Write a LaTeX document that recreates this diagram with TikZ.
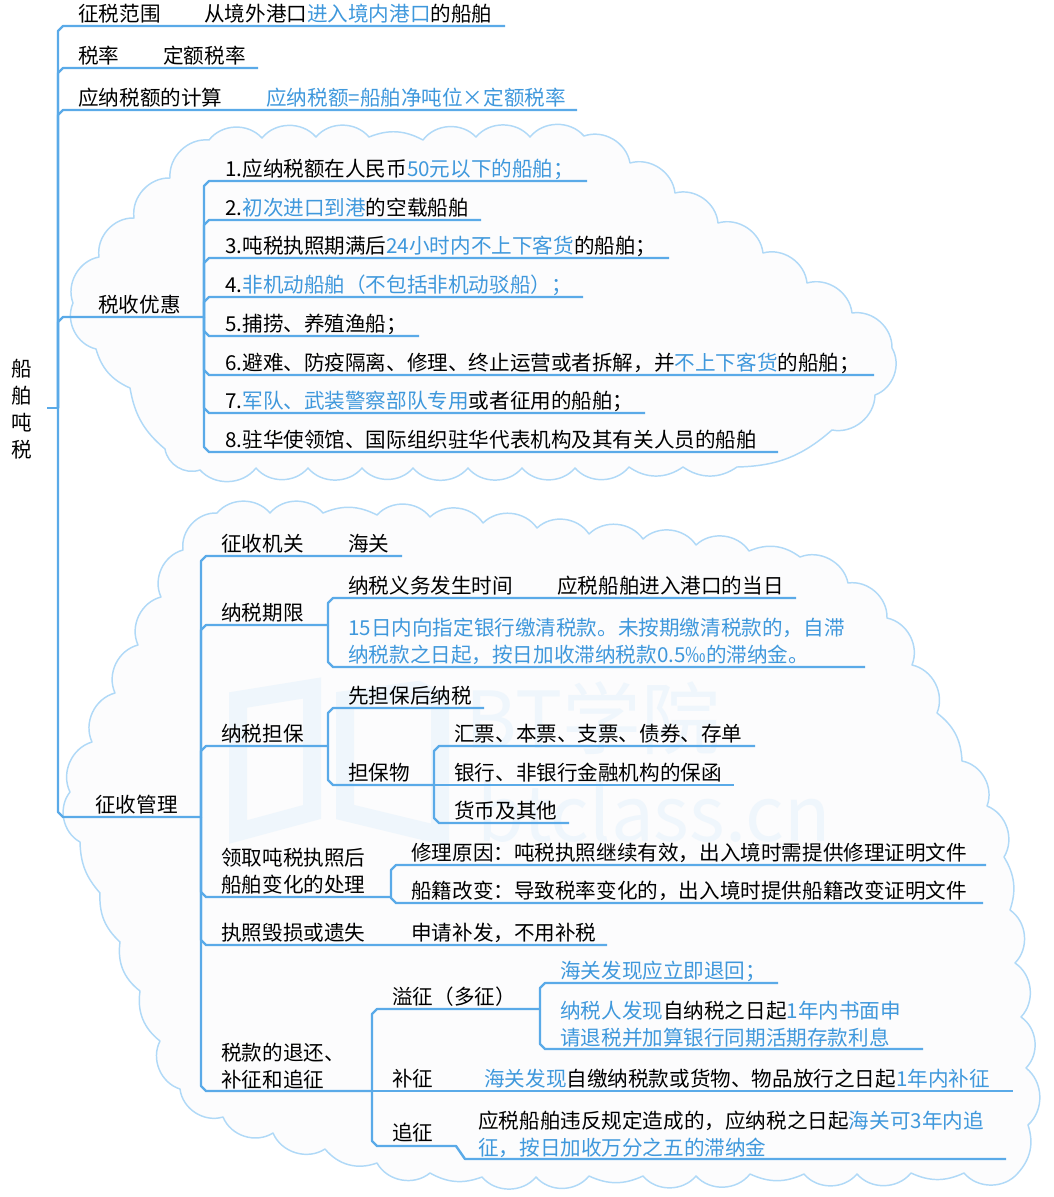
\documentclass[tikz,border=0pt]{standalone}
\usepackage{fontspec}
\setmainfont{Noto Sans CJK SC}
\usetikzlibrary{calc}
\definecolor{branchblue}{HTML}{5AAAE8}
\definecolor{noteblue}{HTML}{3F98DC}
\definecolor{cloudblue}{HTML}{B0D9F7}
\definecolor{cloudfill}{HTML}{FCFCFD}
\definecolor{markblue}{HTML}{EFF6FC}
\newcommand{\hl}[1]{\textcolor{noteblue}{#1}}
\tikzset {
    x=0.75pt,
    y=-0.75pt,
    lbl/.style={anchor=base west, inner sep=0pt, align=left, font=\fontsize{15.44}{20.25}\selectfont},
    branch/.style={draw=branchblue, line width=1.8pt, line join=round},
    upfork/.style={to path={-- ($(\tikztostart |- \tikztotarget)+(0,5)$) -- ($(\tikztostart |- \tikztotarget)+(5,0)$) -- (\tikztotarget)}},
    downfork/.style={to path={-- ($(\tikztostart |- \tikztotarget)+(0,-5)$) -- ($(\tikztostart |- \tikztotarget)+(5,0)$) -- (\tikztotarget)}},
    cloud/.style={draw=cloudblue, fill=cloudfill, line width=1.1pt, line join=round},
    puff/.style={bend left=50},
    markline/.style={draw=markblue, line width=13.5pt, line join=miter},
    marktext/.style={inner sep=0pt, text=markblue}
}
\begin{document}
\begin{tikzpicture}
    \useasboundingbox (0,0) rectangle (1054,1197);

    \path[cloud] (73,303) to[puff] (99,257) to[puff] (134,218) to[puff] (170,178) to[puff] (209,140)
        to[puff] (262,138) to[puff] (316,137) to[puff] (369,137) to[bend left=25] (423,140) to[puff] (476,137)
        to[puff] (530,137) to[puff] (584,136) to[puff] (630,163) to[puff] (675,193) to[puff] (718,223)
        to[puff] (763,253) to[puff] (807,283) to[puff] (852,313) to[puff] (892,348) to[puff] (875,395)
        to[puff] (832,430) to[bend left=20] (737,467) to[bend left=35] (683,467) to[bend left=35] (629,467) to[puff] (575,468)
        to[puff] (522,468) to[puff] (468,468) to[puff] (413,468) to[puff] (362,468) to[puff] (308,468)
        to[puff] (256,468) to[puff] (200,470) to[puff] (165,449) to[bend left=20] (130,388) to[bend left=25] (96,349)
        to[puff] (73,303) -- cycle;
    \path[cloud] (70,792) to[puff] (92,742) to[puff] (115,693) to[puff] (138,645) to[puff] (161,597)
        to[puff] (183,550) to[puff] (217,513) to[puff] (270,513) to[puff] (323,513) to[bend left=25] (377,515)
        to[puff] (430,517) to[puff] (483,523) to[puff] (537,528) to[puff] (589,534) to[puff] (643,539)
        to[puff] (696,545) to[puff] (749,551) to[bend left=30] (800,557) to[puff] (848,583) to[puff] (887,618)
        to[puff] (912,665) to[puff] (937,713) to[bend left=25] (962,761) to[puff] (987,806) to[puff] (1004,857)
        to[bend left=25] (1010,910) to[puff] (1015,963) to[puff] (1021,1017) to[puff] (1026,1068) to[puff] (1028,1125)
        to[bend left=30] (1018,1173) to[puff] (964,1173) to[bend left=25] (911,1173) to[puff] (857,1174) to[puff] (804,1174)
        to[bend left=25] (750,1174) to[puff] (696,1176) to[puff] (643,1176) to[bend left=25] (589,1176) to[puff] (536,1177)
        to[puff] (482,1177) to[bend left=25] (430,1173) to[puff] (377,1163) to[bend left=35] (325,1149) to[puff] (273,1133)
        to[puff] (223,1117) to[puff] (180,1089) to[puff] (160,1041) to[bend left=30] (140,991) to[bend left=30] (120,942)
        to[bend left=25] (100,893) to[bend left=20] (80,842) to[puff] (70,792) -- cycle;

    \draw[markline] (238,832) -- (238,700) -- (312,688) -- (312,812) -- cycle;
    \draw[markline] (345,700) -- (418,690) -- (440,700) -- (440,835) -- (345,812) -- cycle;
    \node[marktext, font=\fontsize{59}{60}\selectfont] (markname) at (593,718) {BT学院};
    \node[marktext, font=\fontsize{57}{58}\selectfont] (marksite) at (654,812) {btclass.cn};

    \node[inner sep=0pt, align=center, font=\fontsize{15.44}{20.25}\selectfont] (title) at (22,409) {船\\舶\\吨\\税};
    \coordinate (titletip) at (47,408);
    \coordinate (spine) at (58,408);

    \node[lbl] (fanwei) at (78,21) {征税范围};
    \node[lbl] (fanweitext) at (204,21) {从境外港口\hl{进入境内港口}的船舶};
    \coordinate (fanweiend) at (505,26);
    \node[lbl] (shuilv) at (78,63) {税率};
    \node[lbl] (shuilvtext) at (163,63) {定额税率};
    \coordinate (shuilvend) at (258,68);
    \node[lbl] (jisuan) at (78,105) {应纳税额的计算};
    \node[lbl] (jisuantext) at (266,105) {\hl{应纳税额=船舶净吨位×定额税率}};
    \coordinate (jisuanend) at (577,110);
    \node[lbl] (youhui) at (98,312) {税收优惠};
    \coordinate (youhuiend) at (204,317);
    \node[lbl] (guanli) at (95,812) {征收管理};
    \coordinate (guanliend) at (201,817);

    \draw[branch] (titletip) -- (spine);
    \draw[branch] (spine) to[upfork] (fanweiend);
    \draw[branch] (spine) to[upfork] (shuilvend);
    \draw[branch] (spine) to[upfork] (jisuanend);
    \draw[branch] (spine) to[upfork] (youhuiend);
    \draw[branch] (spine) to[downfork] (guanliend);

    \node[lbl] (yh1) at (225,176) {1.应纳税额在人民币\hl{50元以下的船舶；}};
    \coordinate (yh1end) at (587,181);
    \node[lbl] (yh2) at (225,215) {2.\hl{初次进口到港}的空载船舶};
    \coordinate (yh2end) at (481,220);
    \node[lbl] (yh3) at (225,253) {3.吨税执照期满后\hl{24小时内不上下客货}的船舶；};
    \coordinate (yh3end) at (669,258);
    \node[lbl] (yh4) at (225,292) {4.\hl{非机动船舶（不包括非机动驳船）；}};
    \coordinate (yh4end) at (583,297);
    \node[lbl] (yh5) at (225,331) {5.捕捞、养殖渔船；};
    \coordinate (yh5end) at (419,336);
    \node[lbl] (yh6) at (225,370) {6.避难、防疫隔离、修理、终止运营或者拆解，并\hl{不上下客货}的船舶；};
    \coordinate (yh6end) at (874,375);
    \node[lbl] (yh7) at (225,408) {7.\hl{军队、武装警察部队专用}或者征用的船舶；};
    \coordinate (yh7end) at (645,413);
    \node[lbl] (yh8) at (225,447) {8.驻华使领馆、国际组织驻华代表机构及其有关人员的船舶};
    \coordinate (yh8end) at (778,452);

    \draw[branch] (youhuiend) to[upfork] (yh1end);
    \draw[branch] (youhuiend) to[upfork] (yh2end);
    \draw[branch] (youhuiend) to[upfork] (yh3end);
    \draw[branch] (youhuiend) to[upfork] (yh4end);
    \draw[branch] (youhuiend) to[downfork] (yh5end);
    \draw[branch] (youhuiend) to[downfork] (yh6end);
    \draw[branch] (youhuiend) to[downfork] (yh7end);
    \draw[branch] (youhuiend) to[downfork] (yh8end);

    \node[lbl] (jiguan) at (221,551) {征收机关};
    \node[lbl] (jiguantext) at (348,551) {海关};
    \coordinate (jiguanend) at (402,556);
    \node[lbl] (qixian) at (221,620) {纳税期限};
    \coordinate (qixianend) at (328,625);
    \node[lbl] (shijian) at (348,593) {纳税义务发生时间};
    \node[lbl] (shijiantext) at (557,593) {应税船舶进入港口的当日};
    \coordinate (shijianend) at (796,598);
    \node[lbl, anchor=south west] (jiaoqing) at (348,665) {\hl{15日内向指定银行缴清税款。未按期缴清税款的，自滞}\\\hl{纳税款之日起，按日加收滞纳税款0.5‰的滞纳金。}};
    \coordinate (jiaoqingend) at (865,667);
    \node[lbl] (danbao) at (221,741) {纳税担保};
    \coordinate (danbaoend) at (328,746);
    \node[lbl] (xiandan) at (348,703) {先担保后纳税};
    \coordinate (xiandanend) at (484,708);
    \node[lbl] (danbaowu) at (348,780) {担保物};
    \coordinate (danbaowuend) at (434,785);
    \node[lbl] (piaoju) at (454,741) {汇票、本票、支票、债券、存单};
    \coordinate (piaojuend) at (755,746);
    \node[lbl] (baohan) at (454,780) {银行、非银行金融机构的保函};
    \coordinate (baohanend) at (734,785);
    \node[lbl] (huobi) at (454,818) {货币及其他};
    \coordinate (huobiend) at (569,823);
    \node[lbl, anchor=south west] (biandong) at (221,895) {领取吨税执照后\\船舶变化的处理};
    \coordinate (biandongend) at (391,897);
    \node[lbl] (xiuli) at (411,860) {修理原因：吨税执照继续有效，出入境时需提供修理证明文件};
    \coordinate (xiuliend) at (986,865);
    \node[lbl] (chuanji) at (411,898) {船籍改变：导致税率变化的，出入境时提供船籍改变证明文件};
    \coordinate (chuanjiend) at (983,903);
    \node[lbl] (huisun) at (221,940) {执照毁损或遗失};
    \node[lbl] (huisuntext) at (411,940) {申请补发，不用补税};
    \coordinate (huisunend) at (607,945);
    \node[lbl, anchor=south west] (tuihuan) at (221,1089) {税款的退还、\\补征和追征};
    \coordinate (tuihuanend) at (372,1091);
    \node[lbl] (yizheng) at (392,1004) {溢征（多征）};
    \coordinate (yizhengend) at (540,1009);
    \node[lbl] (tuihui) at (560,978) {\hl{海关发现应立即退回；}};
    \coordinate (tuihuiend) at (778,983);
    \node[lbl, anchor=south west] (shenqing) at (560,1048) {\hl{纳税人发现}自纳税之日起\hl{1年内书面申}\\\hl{请退税并加算银行同期活期存款利息}};
    \coordinate (shenqingend) at (923,1049);
    \node[lbl] (buzheng) at (392,1086) {补征};
    \node[lbl] (buzhengtext) at (484,1086) {\hl{海关发现}自缴纳税款或货物、物品放行之日起\hl{1年内补征}};
    \coordinate (buzhengend) at (1013,1091);
    \node[lbl] (zhuizheng) at (392,1140) {追征};
    \node[lbl, anchor=south west] (zhuizhengtext) at (478,1158) {应税船舶违反规定造成的，应纳税之日起\hl{海关可3年内追}\\\hl{征，按日加收万分之五的滞纳金}};
    \coordinate (zhuizhengknee) at (456,1146);
    \coordinate (zhuizhengfoot) at (465,1159);
    \coordinate (zhuizhengend) at (1006,1159);

    \draw[branch] (guanliend) to[upfork] (jiguanend);
    \draw[branch] (guanliend) to[upfork] (qixianend);
    \draw[branch] (guanliend) to[upfork] (danbaoend);
    \draw[branch] (guanliend) to[downfork] (biandongend);
    \draw[branch] (guanliend) to[downfork] (huisunend);
    \draw[branch] (guanliend) to[downfork] (tuihuanend);
    \draw[branch] (qixianend) to[upfork] (shijianend);
    \draw[branch] (qixianend) to[downfork] (jiaoqingend);
    \draw[branch] (danbaoend) to[upfork] (xiandanend);
    \draw[branch] (danbaoend) to[downfork] (danbaowuend);
    \draw[branch] (danbaowuend) to[upfork] (piaojuend);
    \draw[branch] (danbaowuend) -- (baohanend);
    \draw[branch] (danbaowuend) to[downfork] (huobiend);
    \draw[branch] (biandongend) to[upfork] (xiuliend);
    \draw[branch] (biandongend) to[downfork] (chuanjiend);
    \draw[branch] (tuihuanend) to[upfork] (yizhengend);
    \draw[branch] (tuihuanend) -- (buzhengend);
    \draw[branch] (tuihuanend) to[downfork] (zhuizhengknee) -- (zhuizhengfoot) -- (zhuizhengend);
    \draw[branch] (yizhengend) to[upfork] (tuihuiend);
    \draw[branch] (yizhengend) to[downfork] (shenqingend);
\end{tikzpicture}
\end{document}
